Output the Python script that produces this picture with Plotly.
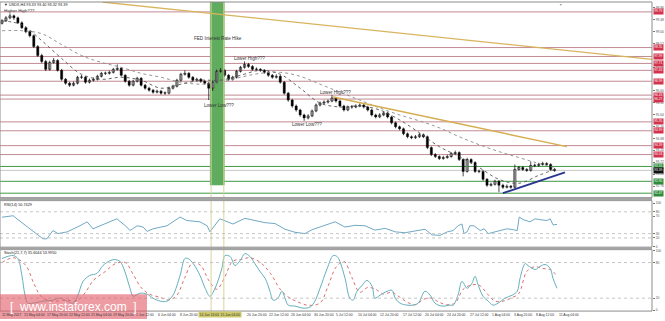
import plotly.graph_objects as go

# ---------------- data ----------------
opens = [99.33, 99.43, 99.55, 99.63, 99.55, 99.35, 99.15, 98.99, 98.83, 98.39,
         98.03, 97.79, 97.47, 97.75, 97.83, 97.43, 97.07, 96.91, 96.83, 96.91,
         97.15, 97.15, 96.95, 97.03, 97.07, 97.19, 97.31, 97.31, 97.35, 97.47,
         97.51, 97.23, 96.99, 96.83, 96.99, 97.11, 96.83, 96.71, 96.63, 96.55,
         96.59, 96.51, 96.51, 96.71, 96.79, 97.03, 97.27, 97.31, 97.15, 97.03,
         97.07, 96.99, 96.91, 96.71, 96.95, 97.39, 97.43, 97.23, 97.07, 97.15,
         97.39, 97.55, 97.67, 97.59, 97.47, 97.47, 97.43, 97.35, 97.23, 97.15,
         97.19, 96.95, 96.51, 96.23, 95.99, 95.83, 95.63, 95.51, 95.59, 95.79,
         96.03, 96.11, 96.15, 96.19, 96.31, 96.19, 95.99, 95.83, 95.95, 95.95,
         95.99, 96.03, 95.95, 95.83, 95.63, 95.55, 95.63, 95.71, 95.55, 95.31,
         95.15, 95.07, 94.87, 94.75, 94.71, 94.75, 94.83, 94.75, 94.31, 94.03,
         93.95, 93.87, 93.91, 93.95, 94.07, 94.11, 93.83, 93.35, 93.83, 93.71,
         93.35, 93.35, 93.03, 92.79, 92.83, 92.95, 92.79, 92.71, 92.75, 92.71,
         93.43, 93.51, 93.43, 93.39, 93.59, 93.59, 93.63, 93.67, 93.63, 93.43]
closes = [99.43, 99.55, 99.63, 99.55, 99.35, 99.15, 98.99, 98.83, 98.39, 98.03,
          97.79, 97.47, 97.75, 97.83, 97.43, 97.07, 96.91, 96.83, 96.91, 97.15,
          97.15, 96.95, 97.03, 97.07, 97.19, 97.31, 97.31, 97.35, 97.47, 97.51,
          97.23, 96.99, 96.83, 96.99, 97.11, 96.83, 96.71, 96.63, 96.55, 96.59,
          96.51, 96.51, 96.71, 96.79, 97.03, 97.27, 97.31, 97.15, 97.03, 97.07,
          96.99, 96.91, 96.71, 96.95, 97.39, 97.43, 97.23, 97.07, 97.15, 97.39,
          97.55, 97.67, 97.59, 97.47, 97.47, 97.43, 97.35, 97.23, 97.15, 97.19,
          96.95, 96.51, 96.23, 95.99, 95.83, 95.63, 95.51, 95.59, 95.79, 96.03,
          96.11, 96.15, 96.19, 96.31, 96.19, 95.99, 95.83, 95.95, 95.95, 95.99,
          96.03, 95.95, 95.83, 95.63, 95.55, 95.63, 95.71, 95.55, 95.31, 95.15,
          95.07, 94.87, 94.75, 94.71, 94.75, 94.83, 94.75, 94.31, 94.03, 93.95,
          93.87, 93.91, 93.95, 94.07, 94.11, 93.83, 93.35, 93.83, 93.71, 93.35,
          93.35, 93.03, 92.79, 92.83, 92.95, 92.79, 92.71, 92.75, 92.71, 93.43,
          93.51, 93.43, 93.39, 93.59, 93.59, 93.63, 93.67, 93.63, 93.43, 93.39]
highs = [99.50, 99.62, 99.73, 99.68, 99.60, 99.41, 99.20, 99.04, 98.88, 98.45,
         98.10, 97.85, 97.82, 97.93, 97.88, 97.49, 97.12, 96.97, 96.98, 97.21,
         97.24, 97.20, 97.10, 97.14, 97.25, 97.37, 97.38, 97.42, 97.53, 97.67,
         97.56, 97.28, 97.04, 97.05, 97.17, 97.16, 96.88, 96.77, 96.68, 96.65,
         96.64, 96.58, 96.77, 96.85, 97.09, 97.33, 97.43, 97.36, 97.20, 97.13,
         97.12, 97.04, 96.96, 97.02, 97.46, 97.52, 97.48, 97.28, 97.21, 97.45,
         97.61, 97.79, 97.73, 97.64, 97.55, 97.52, 97.48, 97.40, 97.28, 97.27,
         97.24, 97.00, 96.56, 96.28, 96.05, 95.88, 95.68, 95.66, 95.85, 96.09,
         96.17, 96.22, 96.25, 96.43, 96.36, 96.24, 96.04, 96.01, 96.03, 96.06,
         96.10, 96.08, 96.00, 95.88, 95.68, 95.70, 95.78, 95.76, 95.60, 95.36,
         95.20, 95.12, 94.92, 94.80, 94.82, 94.90, 94.88, 94.80, 94.36, 94.09,
         94.00, 93.98, 94.02, 94.13, 94.19, 94.16, 93.88, 93.90, 93.88, 93.76,
         93.42, 93.40, 93.08, 92.90, 93.01, 93.00, 92.85, 92.82, 92.80, 93.63,
         93.57, 93.56, 93.48, 93.75, 93.66, 93.70, 93.74, 93.72, 93.68, 93.49]
lows = [99.28, 99.38, 99.49, 99.47, 99.30, 99.10, 98.93, 98.76, 98.33, 97.97,
        97.72, 97.40, 97.42, 97.70, 97.38, 97.01, 96.85, 96.76, 96.78, 96.86,
        97.08, 96.89, 96.90, 96.98, 97.02, 97.14, 97.24, 97.26, 97.30, 97.42,
        97.18, 96.93, 96.77, 96.78, 96.94, 96.78, 96.65, 96.57, 96.49, 96.50,
        96.45, 96.44, 96.46, 96.66, 96.74, 96.98, 97.22, 97.09, 96.97, 96.98,
        96.93, 96.85, 96.23, 96.60, 96.90, 97.33, 97.17, 97.01, 97.02, 97.10,
        97.34, 97.50, 97.53, 97.41, 97.40, 97.37, 97.29, 97.17, 97.09, 97.10,
        96.89, 96.45, 96.16, 95.92, 95.76, 95.56, 95.39, 95.45, 95.54, 95.74,
        95.97, 96.05, 96.09, 96.14, 96.13, 95.93, 95.77, 95.78, 95.88, 95.90,
        95.94, 95.89, 95.77, 95.57, 95.49, 95.50, 95.58, 95.49, 95.25, 95.09,
        95.01, 94.81, 94.69, 94.65, 94.66, 94.70, 94.69, 94.25, 93.97, 93.89,
        93.81, 93.82, 93.86, 93.90, 94.02, 93.77, 93.15, 93.30, 93.65, 93.29,
        93.28, 92.97, 92.73, 92.74, 92.78, 92.51, 92.64, 92.66, 92.65, 92.66,
        93.38, 93.37, 93.33, 93.34, 93.52, 93.54, 93.58, 93.57, 93.37, 93.33]

ma_x = [0, 5, 10, 15, 20, 25, 30, 35, 40, 45, 50, 55, 60, 65, 70, 75, 80, 85, 90,
        95, 100, 105, 110, 115, 120, 125, 130, 135, 139]
ma_fast = [99.43, 99.27, 98.63, 97.91, 97.27, 97.07, 97.15, 97.03, 96.71, 96.87,
           97.03, 97.03, 97.23, 97.43, 97.27, 96.71, 96.11, 95.95, 95.99, 95.83,
           95.43, 94.91, 94.35, 93.95, 93.51, 93.03, 92.87, 93.19, 93.43]
ma_slow = [99.03, 99.03, 98.91, 98.47, 98.03, 97.75, 97.55, 97.31, 97.15, 96.95,
           96.87, 96.95, 97.15, 97.31, 97.35, 97.19, 96.87, 96.55, 96.23, 95.91,
           95.63, 95.39, 95.11, 94.75, 94.43, 94.15, 93.91, 93.67, 93.51]

rsi_x = [0, 2.8, 3.8, 7.0, 10.3, 11.3, 12.8, 14.1, 16.4, 19.6, 21.4, 22.9, 27.9, 28.9,
         31.4, 32.2, 34.0, 35.5, 36.5, 38.0, 41.5, 43.0, 44.8, 46.5, 49.8, 51.6, 52.3,
         54.8, 56.1, 58.1, 61.1, 63.6, 66.2, 68.7, 71.2, 73.7, 76.2, 78.0, 81.3, 83.8,
         86.3, 88.8, 91.3, 93.8, 96.4, 98.9, 101.4, 103.9, 106.4, 108.2, 110.2, 112.0,
         113.5, 114.7, 115.7, 116.2, 117.0, 117.7, 118.7, 120.3, 121.3, 122.3, 123.8,
         125.3, 127.0, 128.6, 129.6, 130.1, 131.1, 132.8, 134.1, 135.3, 137.1, 137.9,
         138.6, 139.6]
rsi_v = [67.5, 71, 63.6, 41, 18, 18, 37, 30, 34, 48, 57, 41, 60, 64,
         45, 37, 48, 45, 35, 41, 48, 57, 68, 60, 57, 48, 34,
         64, 60, 52, 65, 60, 55, 53, 40, 33, 30, 39, 50, 57,
         45, 49, 48, 38, 42, 34, 32, 36, 40, 27, 26, 34,
         37, 48, 52, 30, 34, 48, 48, 37, 41, 30, 34,
         37, 41, 39, 37, 68, 62, 57, 64, 62, 60, 64,
         50, 51]

stoch_x = [0, 1.3, 2.8, 4.0, 5.0, 5.8, 6.5, 7.8, 10.3, 12.8, 14.6, 16.4, 17.9, 19.1,
           20.4, 22.1, 23.9, 25.4, 27.2, 28.4, 29.7, 30.9, 32.2, 33.0, 34.7, 36.5,
           38.0, 39.8, 41.5, 43.0, 44.8, 46.0, 46.8, 48.1, 49.8, 51.1, 52.3, 53.6,
           55.3, 56.1, 57.4, 58.6, 59.9, 61.1, 62.4, 63.6, 64.9, 66.2, 67.4, 68.2,
           69.4, 70.4, 71.2, 72.0, 73.7, 75.7, 77.5, 78.7, 80.0, 81.8, 83.3, 84.3,
           85.0, 86.3, 87.5, 88.3, 89.3, 90.6, 91.8, 93.1, 93.8, 95.1, 96.9, 98.1,
           98.9, 100.1, 101.9, 103.4, 104.7, 106.4, 107.7, 108.9, 110.7, 112.7,
           113.5, 114.7, 115.7, 117.0, 118.2, 119.0, 119.8, 121.0, 122.3, 123.5,
           124.8, 126.5, 128.3, 129.6, 130.3, 131.6, 132.3, 134.1, 135.3, 136.6,
           137.9, 138.6, 139.6]
stoch_k = [86.7, 90, 91.7, 86.7, 58.3, 25, 11.7, 11.7, 15, 16.7, 20, 15, 11.7, 25,
           48.3, 58.3, 61.7, 75, 83.3, 85, 81.7, 65, 36.7, 23.3, 28.3, 26.7,
           20, 15, 15, 25, 58.3, 86.7, 86.7, 78.3, 58.3, 36.7, 23.3, 36.7,
           70, 91.7, 90, 75, 83.3, 95, 90, 78.3, 65, 53.3, 31.7, 16.7,
           20, 31.7, 20, 8.3, 6.7, 3.3, 5, 15, 36.7, 70, 91.7, 90,
           81.7, 53.3, 20, 16.7, 31.7, 41.7, 50, 40, 20, 25, 31.7, 33.3,
           20, 11.7, 8.3, 8.3, 11.7, 31.7, 25, 11.7, 6.7, 8.3,
           8.3, 25, 48.3, 36.7, 45, 56.7, 41.7, 23.3, 15, 8.3,
           11.7, 20, 25, 31.7, 53.3, 78.3, 75, 68.3, 73.3, 76.7,
           70, 53.3, 36.7]
sig_x = [0, 3, 6, 8, 10, 13, 16, 19, 21, 23, 26, 28.5, 31, 33, 35, 37, 39.5, 42, 44, 46,
         48, 50, 52, 54, 56, 58, 60, 62.5, 65, 67.5, 70, 72, 74, 77, 80, 82, 84, 86, 88, 90,
         92, 94, 96, 98, 100, 102, 104, 106, 108, 110, 112, 114, 116, 118, 120, 122, 124,
         126, 128, 130, 132, 134, 136, 138, 139.6]
sig_d = [80, 88, 75, 45, 22, 15, 17, 16, 30, 50, 65, 78, 80, 60, 38, 27, 22, 17, 25, 55,
         80, 75, 50, 35, 55, 82, 85, 88, 80, 62, 35, 22, 15, 8, 12, 40, 72, 82, 55, 30,
         38, 35, 27, 30, 22, 13, 9, 18, 20, 13, 9, 12, 35, 42, 42, 28, 15,
         15, 20, 28, 65, 73, 70, 68, 57]

# grey price-scale labels (those hidden behind object labels are left out, as in MT4)
price_ticks = [99.96, 99.48, 99.00, 98.52, 97.56, 96.60, 96.12,
               95.64, 95.16, 94.68, 94.20, 93.72, 93.24, 92.76]
red_levels = [99.79, 98.35, 97.99, 97.71, 97.43, 96.99, 96.43, 96.27, 95.35,
              94.99, 94.39, 94.03]
green_levels = [93.55, 92.95, 92.47]
bid_level = 93.39

fed_band_x = [52.3, 56.0]
fed_band_low = 92.79
vlines_x = [52.6, 55.8]
trend_long = ([25.2, 163.5], [100.19, 97.87])
trend_short = ([83.3, 142.1], [96.35, 94.35])
trend_support = ([126.0, 141.6], [92.47, 93.31])

x_labels = ["11 May 2017", "15 May 04:00", "17 May 20:00", "22 May 12:00", "25 May 04:00",
            "29 May 20:00", "1 Jun 12:00", "6 Jun 04:00", "8 Jun 20:00", "13 Jun 12:00",
            "15 Jun 04:00", "20 Jun 20:00", "22 Jun 12:00", "26 Jun 04:00", "30 Jun 20:00",
            "5 Jul 12:00", "10 Jul 04:00", "12 Jul 20:00", "17 Jul 12:00", "20 Jul 04:00",
            "24 Jul 20:00", "27 Jul 12:00", "1 Aug 04:00", "3 Aug 20:00", "8 Aug 12:00",
            "11 Aug 04:00"]
vline_labels = ["14 Jun 16:00", "15 Jun 04:00"]

# ---------------- layout helpers ----------------
W, H = 665, 321
PLOT_W = 652
FONT = "Liberation Sans, Arial, sans-serif"


def dom(top_px, bot_px):
    return [1 - bot_px / H, 1 - top_px / H]


def py(px):
    return 1 - px / H


fig = go.Figure()

# candles: wicks + bodies
idx = list(range(len(closes)))
wx, wy = [], []
for i in idx:
    wx += [i, i, None]
    wy += [lows[i], highs[i], None]
fig.add_trace(go.Scatter(x=wx, y=wy, mode="lines", line=dict(color="#000000", width=0.7),
                         hoverinfo="skip", xaxis="x", yaxis="y"))
bull = [i for i in idx if closes[i] >= opens[i]]
bear = [i for i in idx if closes[i] < opens[i]]
fig.add_trace(go.Bar(x=bull, base=[opens[i] for i in bull],
                     y=[max(closes[i] - opens[i], 0.012) for i in bull], width=0.55,
                     marker=dict(color="#ffffff", line=dict(color="#000000", width=0.6)),
                     hoverinfo="skip", xaxis="x", yaxis="y"))
fig.add_trace(go.Bar(x=bear, base=[closes[i] for i in bear],
                     y=[opens[i] - closes[i] for i in bear], width=0.55,
                     marker=dict(color="#000000", line=dict(color="#000000", width=0.4)),
                     hoverinfo="skip", xaxis="x", yaxis="y"))

fig.add_trace(go.Scatter(x=ma_x, y=ma_slow, mode="lines", line_shape="spline",
                         line=dict(color="#8a8a8a", dash="dot", width=0.9),
                         hoverinfo="skip", xaxis="x", yaxis="y"))
fig.add_trace(go.Scatter(x=ma_x, y=ma_fast, mode="lines", line_shape="spline",
                         line=dict(color="#555555", dash="dot", width=0.9),
                         hoverinfo="skip", xaxis="x", yaxis="y"))

fig.add_trace(go.Scatter(x=rsi_x, y=rsi_v, mode="lines",
                         line=dict(color="#6fa9c4", width=1),
                         hoverinfo="skip", xaxis="x", yaxis="y2"))
fig.add_trace(go.Scatter(x=sig_x, y=sig_d, mode="lines", line_shape="spline",
                         line=dict(color="#d24a4a", dash="dot", width=0.8),
                         hoverinfo="skip", xaxis="x", yaxis="y3"))
fig.add_trace(go.Scatter(x=stoch_x, y=stoch_k, mode="lines", line_shape="spline",
                         line=dict(color="#62b0bc", width=1),
                         hoverinfo="skip", xaxis="x", yaxis="y3"))

shapes = []
for lv in red_levels:
    shapes.append(dict(type="line", xref="paper", yref="y", x0=0, x1=1, y0=lv, y1=lv,
                       line=dict(color="#c28a94", width=1), layer="below"))
for lv in green_levels:
    shapes.append(dict(type="line", xref="paper", yref="y", x0=0, x1=1, y0=lv, y1=lv,
                       line=dict(color="#3f9a45", width=1), layer="below"))
shapes.append(dict(type="line", xref="paper", yref="y", x0=0, x1=1, y0=bid_level, y1=bid_level,
                   line=dict(color="#c8c8c8", width=1), layer="below"))
shapes.append(dict(type="rect", xref="x", yref="y", x0=fed_band_x[0], x1=fed_band_x[1],
                   y0=fed_band_low, y1=100.19, fillcolor="#5fac5f", line=dict(width=0),
                   layer="below"))
for vx in vlines_x:
    shapes.append(dict(type="line", xref="x", yref="paper", x0=vx, x1=vx,
                       y0=py(313), y1=1, line=dict(color="#d9d49c", width=1)))
shapes.append(dict(type="line", xref="x", yref="y", x0=trend_long[0][0], x1=trend_long[0][1],
                   y0=trend_long[1][0], y1=trend_long[1][1], line=dict(color="#d8b45e", width=1.3)))
shapes.append(dict(type="line", xref="x", yref="y", x0=trend_short[0][0], x1=trend_short[0][1],
                   y0=trend_short[1][0], y1=trend_short[1][1], line=dict(color="#d6ad50", width=1.5)))
shapes.append(dict(type="line", xref="x", yref="y", x0=trend_support[0][0], x1=trend_support[0][1],
                   y0=trend_support[1][0], y1=trend_support[1][1], line=dict(color="#2a3590", width=1.8)))
for lv in [80, 30, 20]:
    shapes.append(dict(type="line", xref="paper", yref="y2", x0=0, x1=1, y0=lv, y1=lv,
                       line=dict(color="#b8b8b8", width=0.8, dash="dot")))
for lv in [80, 20]:
    shapes.append(dict(type="line", xref="paper", yref="y3", x0=0, x1=1, y0=lv, y1=lv,
                       line=dict(color="#b8b8b8", width=0.8, dash="dot")))
for (t, b) in [(1, 198.5), (201.5, 248.5), (251, 313)]:
    d = dom(t, b)
    shapes.append(dict(type="rect", xref="paper", yref="paper", x0=0, x1=1, y0=d[0], y1=d[1],
                       line=dict(color="#8c8c8c", width=1), fillcolor="rgba(0,0,0,0)"))
for (t, b) in [(198.5, 201.5), (248.5, 251)]:
    d = dom(t, b)
    shapes.append(dict(type="rect", xref="paper", yref="paper", x0=0, x1=1, y0=d[0], y1=d[1],
                       line=dict(width=0), fillcolor="#a4a4a4"))
shapes.append(dict(type="rect", xref="paper", yref="paper", x0=0, x1=147 / PLOT_W,
                   y0=0, y1=py(296), line=dict(width=0), fillcolor="rgba(228,96,106,0.62)"))

ann = []
small = dict(family=FONT, size=3.4, color="#333333")
box_font = dict(family=FONT, size=3.2, color="#ffffff")
for lv in red_levels:
    ann.append(dict(xref="paper", yref="y", x=1, y=lv, xanchor="left", xshift=1,
                    text=f"{lv:.2f}", showarrow=False, bgcolor="#d3324c", borderpad=0.3,
                    font=box_font))
for lv in green_levels:
    ann.append(dict(xref="paper", yref="y", x=1, y=lv, xanchor="left", xshift=1,
                    text=f"{lv:.2f}", showarrow=False, bgcolor="#2f8c3a", borderpad=0.3,
                    font=box_font))
ann.append(dict(xref="paper", yref="y", x=1, y=bid_level, xanchor="left", xshift=1,
                text=f"{bid_level:.2f}", showarrow=False, bgcolor="#111111", borderpad=0.3,
                font=box_font))
txt = dict(family=FONT, size=4.6, color="#333333")
for (t, xx, yy) in [("FED Interest Rate Hike", 47.8, 98.71), ("Lower High???", 57.9, 97.91),
                    ("Lower Low???", 50.3, 96.03), ("Lower High???", 79.5, 96.55),
                    ("Lower Low???", 72.5, 95.23)]:
    ann.append(dict(xref="x", yref="y", x=xx, y=yy, xanchor="left", text=t,
                    showarrow=False, font=txt))
ann.append(dict(xref="paper", yref="paper", x=0.003, y=py(4), xanchor="left", yanchor="middle",
                text="▼ USDX,H4 93.33 93.40 93.32 93.39", showarrow=False,
                font=dict(family=FONT, size=3.8, color="#222222")))
ann.append(dict(xref="paper", yref="paper", x=0.003, y=py(9.5), xanchor="left", yanchor="middle",
                text="Higher High???", showarrow=False, font=dict(family=FONT, size=4.4, color="#333333")))
ann.append(dict(xref="paper", yref="paper", x=0.003, y=py(205.5), xanchor="left", yanchor="middle",
                text="RSI(14) 50.7429", showarrow=False,
                font=dict(family=FONT, size=3.8, color="#222222")))
ann.append(dict(xref="paper", yref="paper", x=0.003, y=py(254.5), xanchor="left", yanchor="middle",
                text="Stoch(21,7,7) 35.6044 53.9950", showarrow=False,
                font=dict(family=FONT, size=3.8, color="#222222")))
ann.append(dict(xref="x", yref="paper", x=140.4, y=1, yanchor="top", text="▼", showarrow=False,
                font=dict(family=FONT, size=3.5, color="#999999")))
for k, lab in enumerate(x_labels):
    if k in (9, 10):
        continue
    ann.append(dict(xref="x", yref="paper", x=k * 5.6 - 0.5, y=py(316.5), xanchor="left",
                    yanchor="middle", text=lab, showarrow=False, font=small))
for i, lab in enumerate(vline_labels):
    ann.append(dict(xref="x", yref="paper", x=49.3 + i * 5.3, y=py(316.5), xanchor="left",
                    yanchor="middle", text=lab, showarrow=False, bgcolor="#cfcb6c",
                    borderpad=0.5, font=small))
ann.append(dict(xref="paper", yref="paper", x=73 / PLOT_W, y=py(308.5), xanchor="center",
                yanchor="middle", text="[  www.instaforex.com  ]", showarrow=False,
                font=dict(family=FONT, size=12, color="#ffffff")))

axis_common = dict(side="right", anchor="x", showgrid=False, zeroline=False, ticks="outside",
                   ticklen=2, tickcolor="#777777", showline=False,
                   tickfont=dict(family=FONT, size=3.3, color="#555555"))

fig.update_layout(
    width=W, height=H, margin=dict(l=0, r=W - PLOT_W, t=0, b=0),
    paper_bgcolor="#ffffff", plot_bgcolor="#ffffff", showlegend=False, barmode="overlay",
    xaxis=dict(range=[-0.5, 163.5], domain=[0, 1], anchor="y3", showticklabels=False,
               ticks="", showgrid=False, zeroline=False, showline=False),
    yaxis=dict(domain=dom(1, 198), range=[92.31, 100.19], tickvals=price_ticks,
               ticktext=[f"{v:.2f}" for v in price_ticks], **axis_common),
    yaxis2=dict(domain=dom(202, 248), range=[0, 104.5], tickvals=[100, 80, 70, 30, 20, 0],
                **axis_common),
    yaxis3=dict(domain=dom(251, 313), range=[-1.7, 101.7], tickvals=[100, 80, 20, 0],
                **axis_common),
    shapes=shapes, annotations=ann,
)

fig.write_html("out.html")
